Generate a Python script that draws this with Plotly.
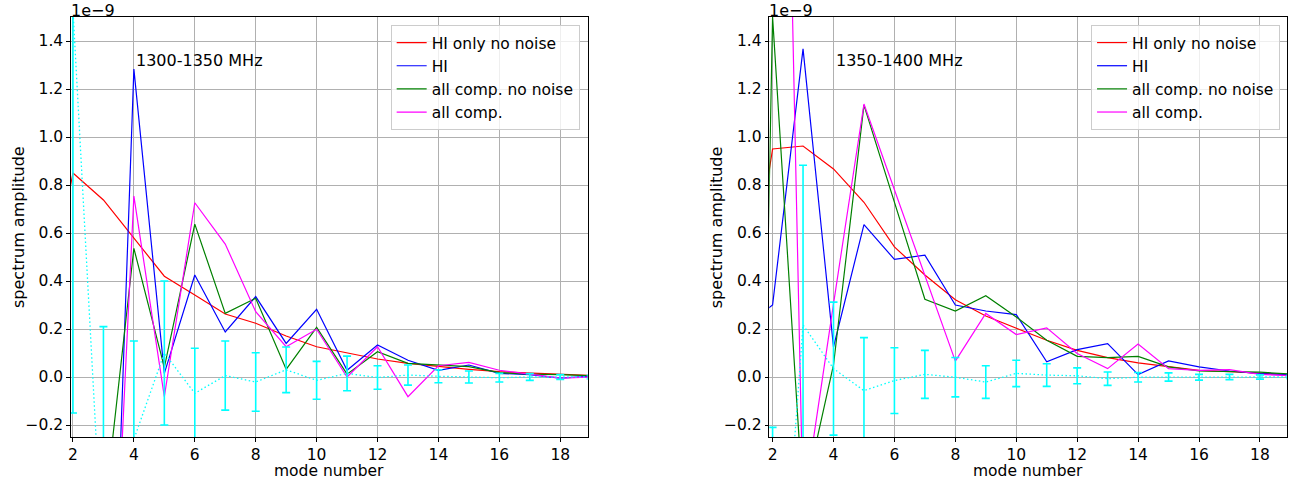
import plotly.graph_objects as go

# ---------------- data (units of 1e-9) ----------------
modes = list(range(1, 20))

# 1300-1350 MHz
hi_nonoise_L = [0.2, 0.85, 0.7375, 0.578, 0.42, 0.342, 0.2625, 0.224, 0.171, 0.126, 0.100, 0.075, 0.057, 0.043, 0.032, 0.022, 0.016, 0.011, 0.006]
hi_L = [-1.0, -1.2, -2.28, 1.283, 0.015, 0.425, 0.1875, 0.335, 0.140, 0.282, 0.028, 0.133, 0.070, 0.028, 0.050, 0.015, 0.010, -0.005, 0.003]
all_nonoise_L = [-1.0, -0.9, -0.6, 0.536, 0.040, 0.637, 0.265, 0.328, 0.032, 0.207, 0.012, 0.105, 0.057, 0.050, 0.043, 0.018, 0.012, 0.010, 0.005]
all_L = [-1.0, -1.0, -1.89, 0.754, -0.082, 0.726, 0.554, 0.272, 0.126, 0.199, 0.000, 0.126, -0.082, 0.047, 0.061, 0.028, 0.012, -0.005, 0.000]

noise_modes = list(range(2, 20))
noise_mean_L = [1.53, -0.82, -0.26, 0.10, -0.068, 0.006, -0.021, 0.030, -0.014, 0.015, -0.002, 0.008, 0.003, 0.000, -0.003, 0.000, 0.000, 0.000]
noise_std_L = [1.68, 1.03, 0.41, 0.30, 0.188, 0.144, 0.122, 0.095, 0.079, 0.072, 0.049, 0.042, 0.027, 0.025, 0.018, 0.014, 0.010, 0.008]

# 1350-1400 MHz
hi_nonoise_R = [0.15, 0.95, 0.9625, 0.867, 0.728, 0.542, 0.425, 0.322, 0.254, 0.202, 0.153, 0.111, 0.081, 0.0585, 0.042, 0.028, 0.022, 0.016, 0.010]
hi_R = [0.2, 0.30, 1.367, 0.125, 0.635, 0.490, 0.508, 0.300, 0.275, 0.260, 0.063, 0.114, 0.139, 0.010, 0.067, 0.042, 0.025, 0.014, 0.010]
all_nonoise_R = [-5.0, 1.50, -0.52, 0.050, 1.133, 0.730, 0.324, 0.275, 0.339, 0.250, 0.153, 0.086, 0.081, 0.086, 0.042, 0.025, 0.022, 0.020, 0.012]
all_R = [5.0, 5.4, -0.55, 0.305, 1.1375, 0.780, 0.430, 0.066, 0.265, 0.177, 0.205, 0.098, 0.035, 0.137, 0.035, 0.028, 0.031, 0.011, 0.005]

noise_mean_R = [-1.51, 0.217, 0.035, -0.057, -0.015, 0.011, -0.001, -0.021, 0.015, 0.008, 0.005, -0.007, -0.001, 0.000, -0.001, 0.000, 0.000, 0.000]
noise_std_R = [1.30, 0.665, 0.277, 0.221, 0.137, 0.100, 0.082, 0.068, 0.055, 0.047, 0.033, 0.028, 0.020, 0.017, 0.012, 0.011, 0.009, 0.007]

band_labels = ["1300-1350 MHz", "1350-1400 MHz"]
series_names = ["HI only no noise", "HI", "all comp. no noise", "all comp."]
series_colors = ["#ff0000", "#0000ff", "#008000", "#ff00ff"]
noise_color = "#00ffff"

W, H = 1303, 480
FONT = "DejaVu Sans"

fig = go.Figure()

panels = [
    dict(series=[hi_nonoise_L, hi_L, all_nonoise_L, all_L], mean=noise_mean_L, std=noise_std_L,
         xa="x", ya="y", legend="legend"),
    dict(series=[hi_nonoise_R, hi_R, all_nonoise_R, all_R], mean=noise_mean_R, std=noise_std_R,
         xa="x2", ya="y2", legend="legend2"),
]

for p in panels:
    for name, vals, col in zip(series_names, p["series"], series_colors):
        fig.add_trace(go.Scatter(x=modes, y=vals, mode="lines", name=name,
                                 line=dict(color=col, width=1.2),
                                 xaxis=p["xa"], yaxis=p["ya"], legend=p["legend"]))
    fig.add_trace(go.Scatter(x=noise_modes, y=p["mean"], mode="lines", showlegend=False,
                             line=dict(color=noise_color, width=1.3, dash="1.5px,2.5px"),
                             error_y=dict(type="data", array=p["std"], visible=True,
                                          color=noise_color, thickness=1.6, width=4),
                             xaxis=p["xa"], yaxis=p["ya"]))

xdom_L = [68 / W, 586 / W]
xdom_R = [768 / W, 1287 / W]
ydom = [1 - 437 / H, 1 - 17 / H]

axis_common = dict(showgrid=True, gridcolor="#b0b0b0", gridwidth=1, zeroline=False,
                   showline=True, linecolor="#000000", linewidth=1, mirror=True,
                   ticks="outside", ticklen=3.5, tickwidth=1, tickcolor="#000000",
                   tickfont=dict(family=FONT, size=15.5, color="#000000"))

fig.update_layout(
    width=W, height=H,
    margin=dict(l=0, r=0, t=0, b=0),
    paper_bgcolor="white", plot_bgcolor="white",
    font=dict(family=FONT, size=16, color="#000000"),
    xaxis=dict(domain=xdom_L, range=[1.93, 18.9], dtick=2, tick0=0, anchor="y", **axis_common),
    yaxis=dict(domain=ydom, range=[-0.25, 1.5], dtick=0.2, tick0=0, tickformat=".1f", anchor="x", **axis_common),
    xaxis2=dict(domain=xdom_R, range=[1.89, 18.89], dtick=2, tick0=0, anchor="y2", **axis_common),
    yaxis2=dict(domain=ydom, range=[-0.25, 1.5], dtick=0.2, tick0=0, tickformat=".1f", anchor="x2", **axis_common),
    legend=dict(x=578 / W, y=1 - 25 / H, xanchor="right", yanchor="top",
                bgcolor="rgba(255,255,255,0.8)", bordercolor="#cccccc", borderwidth=1,
                font=dict(family=FONT, size=15.5), itemwidth=30, tracegroupgap=0),
    legend2=dict(x=1280 / W, y=1 - 25 / H, xanchor="right", yanchor="top",
                 bgcolor="rgba(255,255,255,0.8)", bordercolor="#cccccc", borderwidth=1,
                 font=dict(family=FONT, size=15.5), itemwidth=30, tracegroupgap=0),
)

annos = []
for i, (xr, yr, dom) in enumerate([("x", "y", xdom_L), ("x2", "y2", xdom_R)]):
    annos.append(dict(text=band_labels[i], x=4, y=1.32, xref=xr, yref=yr, xanchor="left",
                      yanchor="middle", showarrow=False, font=dict(family=FONT, size=16)))
    annos.append(dict(text="1e\u22129", x=(dom[0] * W - 2) / W, y=1 - 10 / H, xref="paper", yref="paper",
                      xanchor="left", yanchor="middle", showarrow=False, font=dict(family=FONT, size=16)))
    annos.append(dict(text="spectrum amplitude", x=(dom[0] * W - 53) / W, y=1 - 227 / H,
                      xref="paper", yref="paper", xanchor="center", yanchor="middle",
                      textangle=-90, showarrow=False, font=dict(family=FONT, size=16)))
    annos.append(dict(text="mode number", x=(dom[0] + dom[1]) / 2, y=1 - 471 / H,
                      xref="paper", yref="paper", xanchor="center", yanchor="middle",
                      borderpad=0, showarrow=False, font=dict(family=FONT, size=15.5)))
fig.update_layout(annotations=annos)

fig.write_html("out.html", config={"displayModeBar": False},
               post_script="document.body.style.margin='0';document.body.style.padding='0';")
